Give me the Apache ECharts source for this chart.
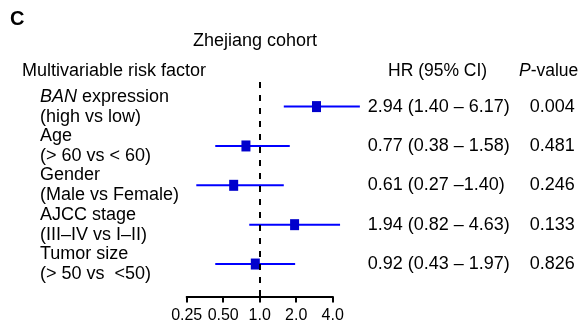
<!DOCTYPE html>
<html>
<head>
<meta charset="utf-8">
<script src="https://cdn.jsdelivr.net/npm/echarts@6/dist/echarts.min.js"></script>
<style>html,body{margin:0;padding:0;background:#fff;}#c{width:580px;height:329px;}</style>
</head>
<body>
<div id="c"></div>
<script>
// ---- data ----
var factorNames = ['BAN expression', 'Age', 'Gender', 'AJCC stage', 'Tumor size'];
var factorCompare = ['(high vs low)', '(> 60 vs < 60)', '(Male vs Female)', '(III\u2013IV vs I\u2013II)', '(> 50 vs  <50)'];
var hrValues = [2.94, 0.77, 0.61, 1.94, 0.92];
var ciLower = [1.58, 0.43, 0.30, 0.82, 0.43];
var ciUpper = [6.7, 1.77, 1.58, 4.6, 1.96];
var hrTexts = ['2.94 (1.40 \u2013 6.17)', '0.77 (0.38 \u2013 1.58)', '0.61 (0.27 \u20131.40)', '1.94 (0.82 \u2013 4.63)', '0.92 (0.43 \u2013 1.97)'];
var pValues = ['0.004', '0.481', '0.246', '0.133', '0.826'];
var xTickLabels = {0.25: '0.25', 0.5: '0.50', 1: '1.0', 2: '2.0', 4: '4.0'};
var rowIndex = [1, 2, 3, 4, 5];

var FONT = 'Liberation Sans, Arial, sans-serif';
var FS = 18;

var squares = hrValues.map(function (v, i) { return [v, rowIndex[i]]; });
var ciData = hrValues.map(function (v, i) { return [ciLower[i], ciUpper[i], rowIndex[i]]; });

function rowAxis(position, margin, valign, formatter, rich) {
  return {
    type: 'value', inverse: true, min: 0.375, max: 5.825, position: position,
    axisLine: {show: false}, axisTick: {show: false}, splitLine: {show: false},
    axisLabel: {
      customValues: rowIndex, align: 'left', verticalAlign: valign, margin: margin, color: '#000',
      showMinLabel: true, showMaxLabel: true, hideOverlap: false,
      fontFamily: FONT, fontSize: FS, lineHeight: 20,
      formatter: formatter, rich: rich
    }
  };
}

var richLeft = {
  n: {fontFamily: FONT, fontSize: FS, color: '#000', lineHeight: 20},
  it: {fontFamily: FONT, fontSize: FS, fontStyle: 'italic', color: '#000', lineHeight: 20}
};

function ts(size, extra) {
  var o = {fontFamily: FONT, fontSize: size, fontWeight: 'normal', color: '#000'};
  for (var k in extra) { o[k] = extra[k]; }
  return o;
}

var chart = echarts.init(document.getElementById('c'), null, {renderer: 'canvas'});
chart.setOption({
  animation: false,
  backgroundColor: '#fff',
  textStyle: {fontFamily: FONT},
  title: [
    {text: 'C', left: 10, top: 9, padding: 0, textStyle: ts(20, {fontWeight: 'bold'})},
    {text: 'Zhejiang cohort', left: 193, top: 32, padding: 0, textStyle: ts(FS)},
    {text: 'Multivariable risk factor', left: 22, top: 62, padding: 0, textStyle: ts(FS)},
    {text: 'HR (95% CI)', left: 388, top: 62, padding: 0, textStyle: ts(17.5)},
    {text: '{i|P}-value', left: 519, top: 62, padding: 0, textStyle: ts(17.5, {
      rich: {i: {fontFamily: FONT, fontSize: 17.5, fontStyle: 'italic', color: '#000'}}})}
  ],
  grid: {left: 186.7, right: 247.3, top: 82, bottom: 32.5, containLabel: false},
  xAxis: {
    type: 'log', logBase: 2, min: 0.25, max: 4,
    axisLine: {show: true, lineStyle: {color: '#000', width: 2}},
    axisTick: {show: true, length: 6, lineStyle: {color: '#000', width: 2}},
    splitLine: {show: false},
    minorTick: {show: false},
    axisLabel: {color: '#000', fontFamily: FONT, fontSize: 16, margin: 11,
      formatter: function (v) { var k = Math.round(v * 100) / 100; return xTickLabels[k] !== undefined ? xTickLabels[k] : ''; }}
  },
  yAxis: [
    rowAxis('left', 146.7, 'bottom', function (v) {
      var i = Math.round(v) - 1;
      var name = factorNames[i];
      if (name.indexOf('BAN') === 0) { return '{it|BAN}{n|' + name.slice(3) + '}'; }
      return '{n|' + name + '}';
    }, richLeft),
    rowAxis('left', 146.7, 'top', function (v) {
      var i = Math.round(v) - 1;
      return '{n|' + factorCompare[i] + '}';
    }, richLeft),
    rowAxis('right', 35, 'middle', function (v) {
      var i = Math.round(v) - 1;
      return '{hr|' + hrTexts[i] + '}{p|' + pValues[i] + '}';
    }, {
      hr: {fontFamily: FONT, fontSize: FS, color: '#000', width: 162},
      p: {fontFamily: FONT, fontSize: FS, color: '#000'}
    })
  ],
  series: [
    {
      type: 'custom', clip: false, z: 2,
      data: ciData,
      encode: {x: [0, 1], y: 2},
      renderItem: function (params, api) {
        var a = api.coord([api.value(0), api.value(2)]);
        var b = api.coord([api.value(1), api.value(2)]);
        return {type: 'line', shape: {x1: a[0], y1: a[1], x2: b[0], y2: b[1]},
          style: {stroke: '#0000ff', lineWidth: 2}};
      },
      markLine: {
        silent: true, symbol: 'none', label: {show: false},
        lineStyle: {color: '#000', width: 2, type: [6, 7]},
        data: [{xAxis: 1}]
      }
    },
    {
      type: 'scatter', symbol: 'rect', symbolSize: [9, 11], z: 3,
      itemStyle: {color: '#0000cc', opacity: 1},
      data: squares
    }
  ]
});
</script>
</body>
</html>
